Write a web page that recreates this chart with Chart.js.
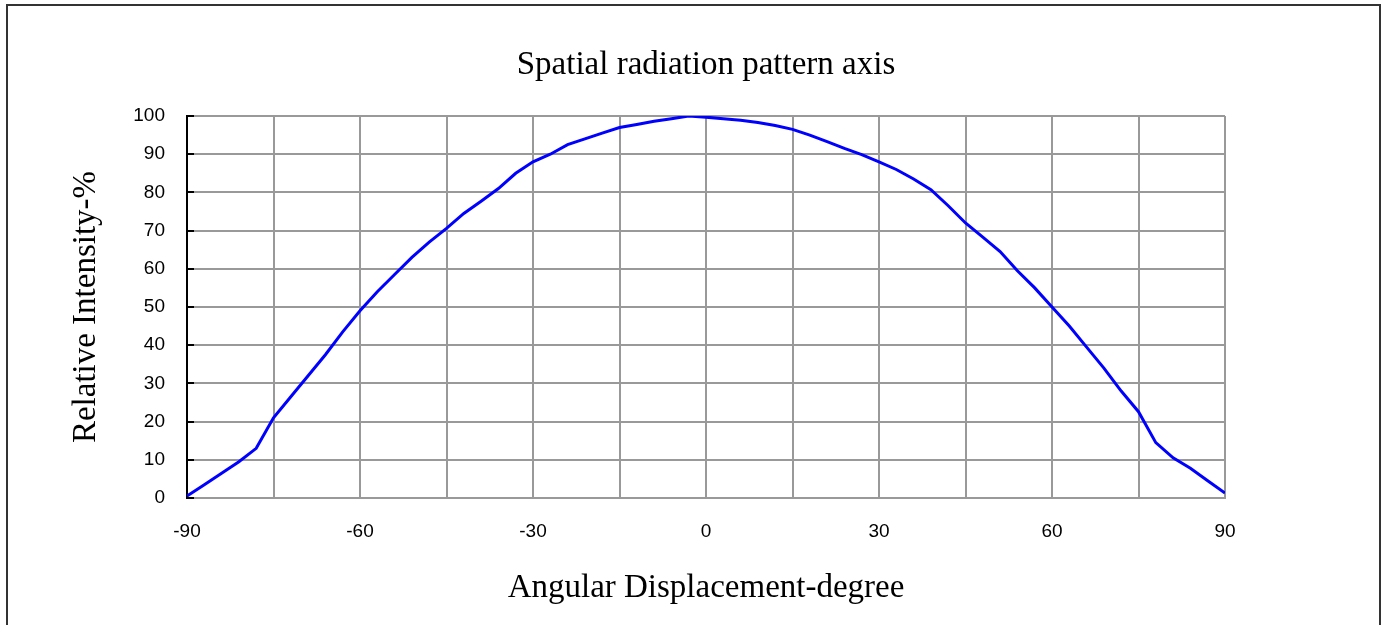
<!DOCTYPE html>
<html>
<head>
<meta charset="utf-8">
<title>Spatial radiation pattern axis</title>
<script src="https://cdn.jsdelivr.net/npm/chart.js@4"></script>
<style>
  html, body { margin: 0; padding: 0; background: #fff; overflow: hidden; }
  #wrap { position: relative; width: 1384px; height: 625px; }
  #frame {
    position: absolute; left: 6px; top: 4px; width: 1375px; height: 640px;
    border: 2px solid #333; box-sizing: border-box;
  }
  #chart { position: absolute; left: 0; top: 0; }
</style>
</head>
<body>
<div id="wrap">
  <div id="frame"></div>
  <canvas id="chart" width="1384" height="625"></canvas>
</div>
<script>
// Angles (degree) and relative intensity (%)
const angles = [-90, -87, -84, -81, -78, -75, -72, -69, -66, -63, -60, -57, -54, -51, -48, -45, -42, -39, -36, -33,
  -30, -27, -24, -21, -18, -15, -12, -9, -6, -3, 0, 3, 6, 9, 12, 15, 18, 21, 24, 27,
  30, 33, 36, 39, 42, 45, 48, 51, 54, 57, 60, 63, 66, 69, 72, 75, 78, 81, 84, 87, 90];
const intensity = [0.5, 3.5, 6.5, 9.5, 13, 21, 26.5, 32, 37.5, 43.5, 49, 54, 58.5, 63, 67, 70.6, 74.5, 77.7, 81, 85,
  88, 90, 92.5, 94, 95.5, 97, 97.8, 98.6, 99.3, 100, 99.7, 99.3, 98.9, 98.3, 97.5, 96.5, 95, 93.3, 91.5, 89.9,
  88, 86, 83.5, 80.7, 76.5, 72, 68.3, 64.5, 59.5, 55, 50, 45, 39.5, 34, 28, 22.6, 14.5, 10.5, 7.8, 4.5, 1.3];

const xTicks = { min: -90, max: 90, step: 15, labelEvery: 30 };
const yTicks = { min: 0, max: 100, step: 10 };

const chartTitle = 'Spatial radiation pattern axis';
const xTitle = 'Angular Displacement-degree';
const yTitle = 'Relative Intensity-%';

const serif = '"Liberation Serif", "DejaVu Serif", serif';
const sans = '"Liberation Sans", Arial, sans-serif';
const titleFont = { family: serif, size: 33, weight: 'normal' };
const tickFont = { family: sans, size: 19 };

// small black tick marks on the inside of the left axis
const leftTicks = {
  id: 'leftTicks',
  afterDatasetsDraw(chart) {
    const ctx = chart.ctx;
    const y = chart.scales.y;
    const left = chart.chartArea.left;
    ctx.save();
    ctx.strokeStyle = '#000';
    ctx.lineWidth = 2;
    y.ticks.forEach(t => {
      const py = Math.round(y.getPixelForValue(t.value));
      ctx.beginPath();
      ctx.moveTo(left, py);
      ctx.lineTo(left + 7, py);
      ctx.stroke();
    });
    ctx.restore();
  }
};

new Chart(document.getElementById('chart'), {
  type: 'line',
  data: {
    datasets: [{
      data: angles.map((a, i) => ({ x: a, y: intensity[i] })),
      borderColor: '#0000ff',
      borderWidth: 3,
      pointRadius: 0,
      tension: 0,
      fill: false
    }]
  },
  options: {
    responsive: false,
    animation: false,
    layout: { padding: { left: 0, right: 159, top: 0, bottom: 0 } },
    plugins: {
      legend: { display: false },
      tooltip: { enabled: false }
    },
    scales: {
      // top axis only carries the chart title, centred over the plot
      xTop: {
        type: 'linear',
        position: 'top',
        min: xTicks.min,
        max: xTicks.max,
        afterFit: s => { s.height = 116; },
        ticks: { display: false },
        grid: { display: false },
        border: { display: false },
        title: {
          display: true,
          text: chartTitle,
          color: '#000',
          font: titleFont,
          padding: { top: 46, bottom: 0 }
        }
      },
      x: {
        type: 'linear',
        min: xTicks.min,
        max: xTicks.max,
        afterFit: s => { s.height = 127; },
        ticks: {
          stepSize: xTicks.step,
          autoSkip: false,
          maxRotation: 0,
          padding: 22,
          color: '#000',
          font: tickFont,
          callback: v => (v % xTicks.labelEvery === 0 ? String(v) : '')
        },
        grid: { color: '#999', lineWidth: 2, drawTicks: false },
        border: { color: '#999', width: 2 },
        title: {
          display: true,
          text: xTitle,
          color: '#000',
          font: titleFont,
          padding: { top: 0, bottom: 17 }
        }
      },
      y: {
        min: yTicks.min,
        max: yTicks.max,
        afterFit: s => { s.width = 187; },
        ticks: {
          stepSize: yTicks.step,
          padding: 22,
          color: '#000',
          font: tickFont
        },
        grid: { color: '#999', lineWidth: 2, drawTicks: false },
        border: { color: '#000', width: 2 },
        title: {
          display: true,
          text: yTitle,
          color: '#000',
          font: titleFont,
          padding: { top: 67, bottom: 0 }
        }
      }
    }
  },
  plugins: [leftTicks]
});
</script>
</body>
</html>
